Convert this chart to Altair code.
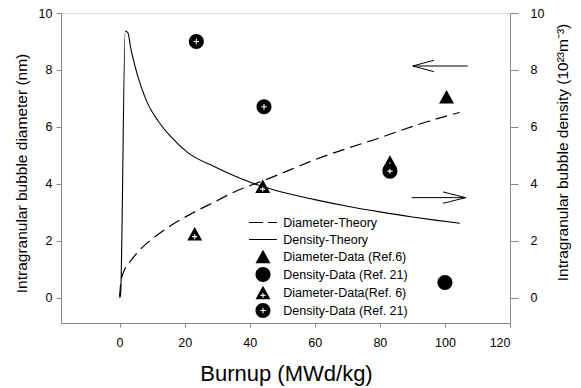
import altair as alt
import pandas as pd

# ---------------- data ----------------
diam_theory_x = [0, 0.5, 1.5, 3.6, 6.7, 10.8, 15.9, 22.1, 29.2, 36.4, 41.5, 44.5, 50, 55, 60, 70, 80, 86, 95, 104.5]
diam_theory_y = [0.05, 0.63, 0.98, 1.33, 1.74, 2.14, 2.55, 2.96, 3.37, 3.78, 4.0, 4.13, 4.38, 4.62, 4.85, 5.25, 5.62, 5.86, 6.2, 6.51]

dens_theory_x = [0, 0.3, 1.75, 2.6, 3.4, 4.6, 6.7, 8.7, 11.8, 15.9, 21.0, 29.2, 37.4, 42.6, 48.3, 60, 70, 80, 90, 97, 104.6]
dens_theory_y = [0, 0.1, 9.37, 9.3, 8.79, 8.2, 7.39, 6.81, 6.22, 5.64, 5.1, 4.6, 4.18, 3.96, 3.76, 3.45, 3.22, 3.02, 2.84, 2.73, 2.62]

legend_labels = [
    "Diameter-Theory",
    "Density-Theory",
    "Diameter-Data (Ref.6)",
    "Density-Data (Ref. 21)",
    "Diameter-Data(Ref. 6)",
    "Density-Data (Ref. 21) ",
]

pt_series = [legend_labels[2], legend_labels[3],
             legend_labels[4], legend_labels[4], legend_labels[4],
             legend_labels[5], legend_labels[5], legend_labels[5]]
pt_x = [100.5, 100, 23.1, 44.0, 83.1, 23.6, 44.4, 83.1]
pt_y = [7.06, 0.54, 2.25, 3.92, 4.77, 9.0, 6.71, 4.45]

# arrows (shaft + two head strokes), in data units
arrow_x1 = [90.1, 90.1, 90.1, 89.8, 106.4, 106.4]
arrow_x2 = [107.0, 96.6, 96.6, 106.4, 99.4, 99.4]
arrow_y1 = [8.14, 8.14, 8.14, 3.52, 3.52, 3.52]
arrow_y2 = [8.14, 8.34, 7.94, 3.52, 3.72, 3.32]

x_ticks = [0, 20, 40, 60, 80, 100, 120]
y_ticks = [0, 2, 4, 6, 8, 10]
x_domain = [-18, 120]
y_domain = [-0.88, 10]

# ---------------- symbol paths ----------------
def cross(cx, cy, a, t):
    # counter-clockwise (on screen) so that it punches a hole with nonzero fill
    pts = [(a, -t), (t, -t), (t, -a), (-t, -a), (-t, -t), (-a, -t),
           (-a, t), (-t, t), (-t, a), (t, a), (t, t), (a, t)]
    s = "M" + "L".join(f"{cx + px:.3f},{cy + py:.3f}" for px, py in pts) + "Z"
    return s

TRI = "M0,-0.9L1,0.9L-1,0.9Z"
CIRC = "M1,0A1,1,0,1,1,-1,0A1,1,0,1,1,1,0Z"
TRI_PLUS = TRI + cross(0, 0.38, 0.33, 0.075)
CIRC_PLUS = CIRC + cross(0, 0, 0.36, 0.075)
h = 0.07
SOLID = f"M-1.87,{-h}L1.87,{-h}L1.87,{h}L-1.87,{h}Z"
DASHED = (f"M-1.87,{-h}L0,{-h}L0,{h}L-1.87,{h}Z"
          f"M0.67,{-h}L1.87,{-h}L1.87,{h}L0.67,{h}Z")
shape_range = [DASHED, SOLID, TRI, CIRC, TRI_PLUS, CIRC_PLUS]

FONT = "Liberation Sans"

diam_df = pd.DataFrame({"x": diam_theory_x, "y": diam_theory_y})
dens_df = pd.DataFrame({"x": dens_theory_x, "y": dens_theory_y})
pts_df = pd.DataFrame({"x": pt_x, "y": pt_y, "s": pt_series})
arr_df = pd.DataFrame({"x": arrow_x1, "x2": arrow_x2, "y": arrow_y1, "y2": arrow_y2})

x_enc = alt.X("x:Q", scale=alt.Scale(domain=x_domain, nice=False, zero=False),
              axis=alt.Axis(values=x_ticks, title="Burnup (MWd/kg)", grid=False,
                            tickSize=4, labelPadding=9, labelFontSize=12.5,
                            titleFontSize=22, titleFontWeight="normal",
                            titleX=225, titleY=57, titleBaseline="alphabetic",
                            titleAlign="center"))
y_scale = alt.Scale(domain=y_domain, nice=False, zero=False)

diam_line = alt.Chart(diam_df).mark_line(color="black", strokeWidth=1.2,
                                          strokeDash=[12, 6],
                                          interpolate="monotone").encode(
    x=x_enc,
    y=alt.Y("y:Q", scale=y_scale,
            axis=alt.Axis(values=y_ticks, title="Intragranular bubble diameter (nm)",
                          grid=False, tickSize=5, labelPadding=4, labelFontSize=12.5,
                          titleFontSize=15.5, titleFontWeight="normal",
                          titleAngle=270, titleX=-40, titleY=160,
                          titleAlign="center", titleBaseline="middle")),
    order="x:Q",
)

dens_line = alt.Chart(dens_df).mark_line(color="black", strokeWidth=1.1,
                                          interpolate="monotone").encode(
    x=x_enc,
    y=alt.Y("y:Q", scale=y_scale,
            axis=alt.Axis(orient="right", values=y_ticks,
                          title="Intragranular bubble density (10²³m⁻³)",
                          grid=False, tickSize=8, labelPadding=12, labelFontSize=12.5,
                          titleFontSize=15.5, titleFontWeight="normal",
                          titleAngle=270, titleX=52, titleY=139,
                          titleAlign="center", titleBaseline="middle")),
    order="x:Q",
)

arrows = alt.Chart(arr_df).mark_rule(color="black", strokeWidth=1).encode(
    x=x_enc,
    x2="x2:Q",
    y=alt.Y("y:Q", scale=y_scale, axis=None),
    y2="y2:Q",
)

points = alt.Chart(pts_df).mark_point(filled=True, color="black", opacity=1,
                                      size=225, strokeWidth=0).encode(
    x=x_enc,
    y=alt.Y("y:Q", scale=y_scale, axis=None),
    shape=alt.Shape("s:N", scale=alt.Scale(domain=legend_labels, range=shape_range),
                    legend=alt.Legend(title=None, orient="none", legendX=194.5,
                                      legendY=202, padding=0, rowPadding=3,
                                      symbolSize=225, symbolOffset=0,
                                      symbolFillColor="black", symbolStrokeWidth=0,
                                      symbolOpacity=1, labelOffset=12.8,
                                      labelFontSize=12.5, labelLimit=400,
                                      labelFont=FONT, labelColor="black")),
)

chart = alt.layer(diam_line, dens_line, arrows, points).resolve_scale(
    y="independent"
).properties(
    width=449, height=310,
    autosize=alt.AutoSizeParams(type="none"),
    padding={"left": 53, "top": 5, "right": 62, "bottom": 64},
).configure_view(stroke="black", strokeWidth=1).configure_axis(
    labelFont=FONT, titleFont=FONT, labelColor="black", titleColor="black",
    domainColor="black", tickColor="black", domainWidth=1, tickWidth=1,
).configure(background="white")

chart.save("out.html", embed_options={"renderer": "svg", "actions": False})
